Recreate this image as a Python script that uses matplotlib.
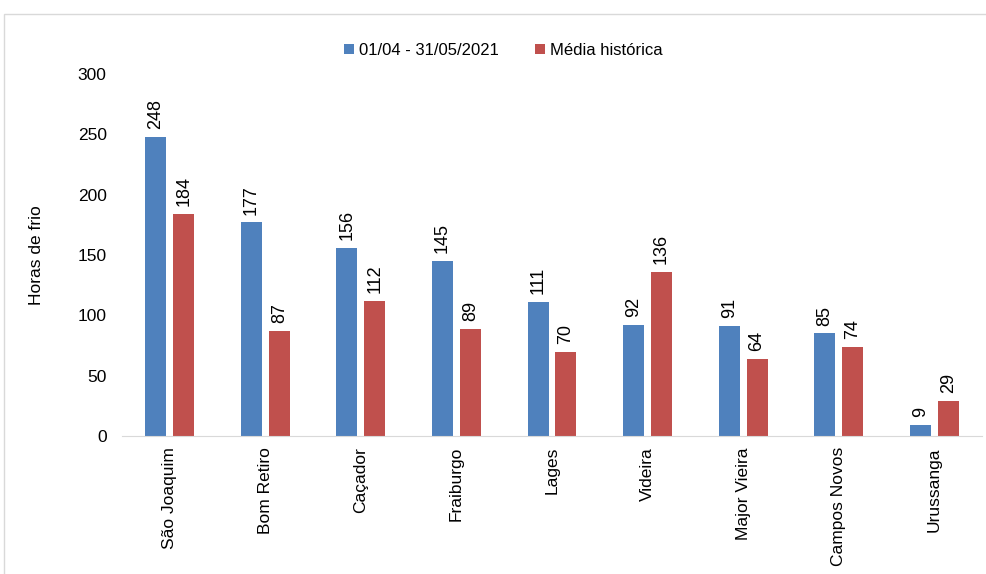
import numpy as np
import matplotlib.pyplot as plt
from matplotlib.patches import Rectangle

plt.rcParams['font.family'] = ['Liberation Sans', 'DejaVu Sans']

estacoes = ['São Joaquim', 'Bom Retiro', 'Caçador', 'Fraiburgo', 'Lages',
            'Videira', 'Major Vieira', 'Campos Novos', 'Urussanga']
horas_2021 = [248, 177, 156, 145, 111, 92, 91, 85, 9]
media_hist = [184, 87, 112, 89, 70, 136, 64, 74, 29]
yticks = [0, 50, 100, 150, 200, 250, 300]

azul = '#4F81BD'
verm = '#C0504D'

fig = plt.figure(figsize=(9.87, 5.74), dpi=100)
ax = fig.add_axes([0.1236, 0.2404, 0.8714, 0.6307])

x = np.arange(len(estacoes))
w = 0.22
b1 = ax.bar(x - 0.146, horas_2021, w, color=azul, label='01/04 - 31/05/2021')
b2 = ax.bar(x + 0.146, media_hist, w, color=verm, label='Média histórica')

for bars, vals in ((b1, horas_2021), (b2, media_hist)):
    for r, v in zip(bars, vals):
        ax.text(r.get_x() + r.get_width() / 2, v + 6.5, str(v), rotation=90,
                ha='center', va='bottom', fontsize=13)

ax.set_xlim(-0.5, len(estacoes) - 0.5)
ax.set_ylim(0, 300)
ax.set_yticks(yticks)
ax.set_xticks(x)
ax.set_xticklabels(estacoes, rotation=90, fontsize=12.5)
ax.tick_params(axis='y', labelsize=12.5, length=0, pad=11)
ax.tick_params(axis='x', length=0, pad=8)
for s in ['top', 'right', 'left']:
    ax.spines[s].set_visible(False)
ax.spines['bottom'].set_color('#D9D9D9')
ax.set_ylabel('Horas de frio', fontsize=12.5, labelpad=24)

fig.legend(loc='center', bbox_to_anchor=(0.51, 0.912), ncol=2, frameon=False,
           fontsize=12, handlelength=0.6, handleheight=0.6, handletextpad=0.3,
           columnspacing=2.2)

fig.patches.append(Rectangle((0.004, -0.01), 1.0, 0.985, transform=fig.transFigure,
                             fill=False, edgecolor='#D9D9D9', linewidth=1))

fig.savefig('out.png', dpi=100)
